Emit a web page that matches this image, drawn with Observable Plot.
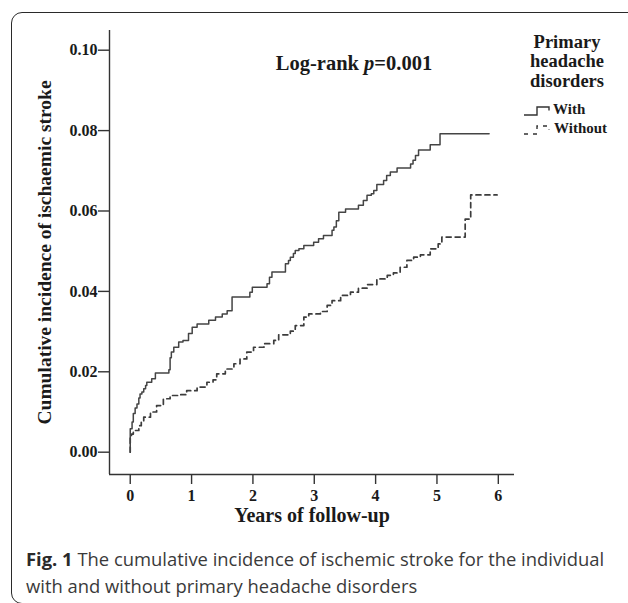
<!DOCTYPE html>
<html>
<head>
<meta charset="utf-8">
<script src="https://cdn.jsdelivr.net/npm/d3@7"></script>
<script src="https://cdn.jsdelivr.net/npm/@observablehq/plot@0.6"></script>
<style>
  html, body { margin: 0; padding: 0; background: #fff; }
  #wrap { position: relative; width: 628px; height: 603px; overflow: hidden; background: #fff; }
  #border { position: absolute; left: 11px; top: 12px; width: 700px; height: 592px;
            border: 1.6px solid #2a2a2a; border-radius: 11px; box-sizing: border-box; }
  #chart { position: absolute; left: 0; top: 0; }
  .serif { font-family: "Liberation Serif", "Times New Roman", serif; font-weight: bold; color: #1a1a1a; }
  #logrank { position: absolute; left: 354px; top: 63px; transform: translate(-50%, -50%);
             font-size: 20.5px; white-space: nowrap; }
  #legend { position: absolute; left: 520px; top: 33px; width: 100px; }
  #legend .title { position: absolute; left: 0; width: 94px; text-align: center; font-size: 18.5px; line-height: 19.3px; top: 0; }
  #legend .item { position: absolute; font-size: 15px; white-space: nowrap; }
  #legend svg { position: absolute; overflow: visible; }
  #caption { position: absolute; left: 26px; top: 545px; width: 600px;
             font-family: "Open Sans", "Noto Sans", sans-serif; font-size: 18.4px; line-height: 27px; color: #3a3a3a; }
  #caption .line { white-space: nowrap; }
  #caption b { font-weight: 700; color: #2a2a2a; }
</style>
</head>
<body>
<div id="wrap">
  <div id="border"></div>
  <div id="chart"></div>
  <div id="logrank" class="serif"></div>
  <div id="legend" class="serif"></div>
  <div id="caption"></div>
</div>
<script>
// ---- Data ----
const xTicks = [0, 1, 2, 3, 4, 5, 6];
const yTicks = [0.00, 0.02, 0.04, 0.06, 0.08, 0.10];
const xTitle = "Years of follow-up";
const yTitle = "Cumulative incidence of ischaemic stroke";
const legendTitle = ["Primary", "headache", "disorders"];
const groups = ["With", "Without"];
const annotationPrefix = "Log-rank ";
const annotationP = "p";
const annotationValue = "=0.001";
const captionLabel = "Fig. 1";
const captionLines = [" The cumulative incidence of ischemic stroke for the individual", "with and without primary headache disorders"];

// "With" primary headache disorders (step points: time in years, cumulative incidence)
const withTime = [0, 0, 0.03, 0.05, 0.08, 0.11, 0.14, 0.16, 0.19, 0.22, 0.25, 0.27, 0.35, 0.41, 0.63, 0.65, 0.67, 0.71, 0.79, 0.86, 0.95, 1.01, 1.09, 1.28, 1.39, 1.50, 1.58, 1.66, 1.95, 1.99, 2.23, 2.27, 2.31, 2.53, 2.58, 2.61, 2.66, 2.69, 2.75, 2.83, 2.99, 3.07, 3.15, 3.29, 3.32, 3.36, 3.40, 3.51, 3.72, 3.80, 3.86, 3.93, 3.97, 4.02, 4.13, 4.18, 4.24, 4.35, 4.57, 4.61, 4.65, 4.70, 4.89, 5.05, 5.85];
const withValue = [0, 0.0058, 0.0075, 0.0096, 0.0110, 0.0120, 0.0135, 0.0145, 0.0150, 0.0158, 0.0166, 0.0174, 0.0183, 0.0197, 0.0205, 0.0235, 0.0249, 0.0261, 0.0274, 0.0278, 0.0295, 0.0311, 0.0319, 0.0328, 0.0336, 0.0344, 0.0352, 0.0386, 0.0398, 0.0410, 0.0419, 0.0435, 0.0448, 0.0469, 0.0477, 0.0485, 0.0494, 0.0502, 0.0506, 0.0514, 0.0522, 0.0531, 0.0539, 0.0552, 0.0560, 0.0576, 0.0597, 0.0605, 0.0614, 0.0626, 0.0639, 0.0643, 0.0651, 0.0666, 0.0676, 0.0688, 0.0697, 0.0707, 0.0717, 0.0726, 0.0738, 0.0752, 0.0765, 0.0792, 0.0792];

// "Without" primary headache disorders
const withoutTime = [0, 0, 0.02, 0.05, 0.14, 0.18, 0.22, 0.33, 0.43, 0.54, 0.65, 0.82, 0.92, 1.09, 1.25, 1.35, 1.41, 1.55, 1.69, 1.79, 1.90, 2.01, 2.18, 2.34, 2.42, 2.61, 2.69, 2.83, 2.91, 3.10, 3.21, 3.29, 3.43, 3.59, 3.72, 3.86, 4.02, 4.19, 4.29, 4.40, 4.51, 4.62, 4.73, 4.89, 5.02, 5.08, 5.46, 5.55, 5.98];
const withoutValue = [0, 0.0037, 0.0045, 0.0054, 0.0066, 0.0078, 0.0087, 0.0100, 0.0116, 0.0133, 0.0141, 0.0143, 0.0153, 0.0162, 0.0174, 0.0180, 0.0195, 0.0207, 0.0220, 0.0232, 0.0249, 0.0261, 0.0270, 0.0278, 0.0292, 0.0301, 0.0315, 0.0336, 0.0344, 0.0350, 0.0365, 0.0377, 0.0390, 0.0398, 0.0408, 0.0417, 0.0431, 0.0440, 0.0446, 0.0460, 0.0477, 0.0485, 0.0491, 0.0506, 0.0518, 0.0535, 0.0580, 0.0640, 0.0640];

const xDomain = [-0.338, 6.264];
const yDomain = [-0.00555, 0.1049];

// ---- Build ----
const withRows = withTime.map((t, i) => ({t, v: withValue[i], group: groups[0]}));
const withoutRows = withoutTime.map((t, i) => ({t, v: withoutValue[i], group: groups[1]}));

const serif = "'Liberation Serif', 'Times New Roman', serif";
const ink = "#1a1a1a";

const plot = Plot.plot({
  width: 628,
  height: 536,
  marginLeft: 109,
  marginRight: 114,
  marginTop: 30,
  marginBottom: 62,
  style: {fontFamily: serif, fontWeight: "bold", color: ink, background: "transparent", overflow: "visible"},
  x: {domain: xDomain},
  y: {domain: yDomain},
  marks: [
    Plot.ruleX([xDomain[0]], {stroke: "#333", strokeWidth: 1.4}),
    Plot.ruleY([yDomain[0]], {stroke: "#333", strokeWidth: 1.4}),
    Plot.axisY({ticks: yTicks, tickFormat: d3.format(".2f"), tickSize: 11, tickPadding: 1, fontSize: 16, fontWeight: "bold", label: null, stroke: "#333", strokeWidth: 1.4}),
    Plot.axisX({ticks: xTicks, tickFormat: d3.format("d"), tickSize: 10, tickPadding: 5, fontSize: 16, fontWeight: "bold", label: null, stroke: "#333", strokeWidth: 1.4}),
    Plot.text([xTitle], {text: d => d, frameAnchor: "bottom", dy: 47, fontSize: 20, fontWeight: "bold", fill: ink}),
    Plot.text([yTitle], {text: d => d, frameAnchor: "left", textAnchor: "middle", rotate: -90, dx: -65, fontSize: 19.5, fontWeight: "bold", fill: ink}),
    Plot.line(withoutRows, {x: "t", y: "v", curve: "step-after", stroke: "#3c3c3c", strokeWidth: 1.7, strokeDasharray: "5,4"}),
    Plot.line(withRows, {x: "t", y: "v", curve: "step-after", stroke: "#444", strokeWidth: 1.5})
  ]
});
document.getElementById("chart").appendChild(plot);

// Annotation
const lr = document.getElementById("logrank");
lr.innerHTML = "";
lr.appendChild(document.createTextNode(annotationPrefix));
const pi = document.createElement("i"); pi.textContent = annotationP; lr.appendChild(pi);
lr.appendChild(document.createTextNode(annotationValue));

// Legend
const lg = document.getElementById("legend");
legendTitle.forEach((line, i) => {
  const d = document.createElement("div");
  d.className = "title";
  d.style.top = (i * 19.3) + "px";
  d.textContent = line;
  lg.appendChild(d);
});
const swatchPaths = [
  {path: "M0,6 H13 V-2 H25 V1.5", dash: null, top: 76},
  {path: "M0,6 H13 V-2 H25 V1.5", dash: "4,5", top: 95}
];
groups.forEach((g, i) => {
  const s = document.createElementNS("http://www.w3.org/2000/svg", "svg");
  s.setAttribute("width", 26); s.setAttribute("height", 10);
  s.style.left = "4px"; s.style.top = swatchPaths[i].top + "px";
  const p = document.createElementNS("http://www.w3.org/2000/svg", "path");
  p.setAttribute("d", swatchPaths[i].path);
  p.setAttribute("fill", "none");
  p.setAttribute("stroke", "#333");
  p.setAttribute("stroke-width", "1.4");
  if (swatchPaths[i].dash) p.setAttribute("stroke-dasharray", swatchPaths[i].dash);
  s.appendChild(p);
  lg.appendChild(s);
  const t = document.createElement("div");
  t.className = "item";
  t.style.left = (i === 0 ? 33 : 34) + "px";
  t.style.top = (i === 0 ? 68 : 87) + "px";
  t.textContent = g;
  lg.appendChild(t);
});

// Caption (two explicit lines, as in the reference)
const cap = document.getElementById("caption");
captionLines.forEach((txt, i) => {
  const line = document.createElement("div");
  line.className = "line";
  if (i === 0) {
    const b = document.createElement("b"); b.textContent = captionLabel;
    line.appendChild(b);
  }
  const span = document.createElement("span");
  span.textContent = txt;
  line.appendChild(span);
  cap.appendChild(line);
});
</script>
</body>
</html>
